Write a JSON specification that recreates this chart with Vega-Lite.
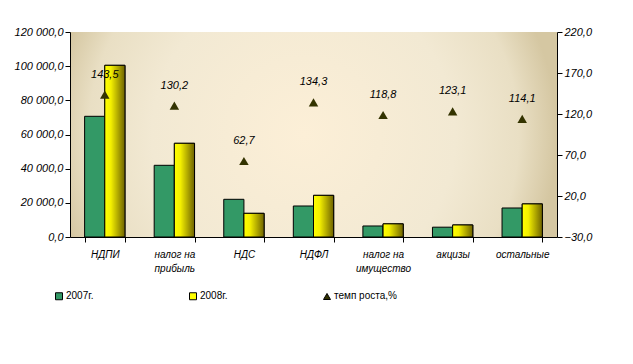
{
  "$schema": "https://vega.github.io/schema/vega-lite/v6.json",
  "width": 487,
  "height": 205,
  "autosize": {"type": "none"},
  "padding": {"left": 70, "top": 32, "right": 76, "bottom": 127},
  "background": "white",
  "config": {
    "locale": {"number": {"decimal": ",", "thousands": " ", "grouping": [3], "currency": ["", ""]}},
    "view": {
      "stroke": null,
      "fill": {"gradient": "radial", "x1": 0.48, "y1": 0.5, "r1": 0, "x2": 0.48, "y2": 0.5, "r2": 0.52,
        "stops": [{"offset": 0, "color": "#fcefd7"}, {"offset": 0.6, "color": "#f2e9d3"}, {"offset": 0.85, "color": "#e9dfc4"}, {"offset": 1, "color": "#d5c7a2"}]}
    },
    "axis": {"domainColor": "black", "tickColor": "black", "grid": false, "title": null,
      "labelFont": "Liberation Sans", "labelFontStyle": "italic", "labelColor": "black", "labelFontSize": 11, "tickSize": 5},
    "legend": {"labelFont": "Liberation Sans", "labelFontSize": 10, "labelColor": "black"}
  },
  "data": {"values": [
    {"cat": "НДПИ", "series": "2007г.", "value": 70650},
    {"cat": "НДПИ", "series": "2008г.", "value": 100500},
    {"cat": "налог на|прибыль", "series": "2007г.", "value": 41970},
    {"cat": "налог на|прибыль", "series": "2008г.", "value": 54850},
    {"cat": "НДС", "series": "2007г.", "value": 22070},
    {"cat": "НДС", "series": "2008г.", "value": 13850},
    {"cat": "НДФЛ", "series": "2007г.", "value": 18150},
    {"cat": "НДФЛ", "series": "2008г.", "value": 24380},
    {"cat": "налог на|имущество", "series": "2007г.", "value": 6450},
    {"cat": "налог на|имущество", "series": "2008г.", "value": 7700},
    {"cat": "акцизы", "series": "2007г.", "value": 5750},
    {"cat": "акцизы", "series": "2008г.", "value": 7050},
    {"cat": "остальные", "series": "2007г.", "value": 16980},
    {"cat": "остальные", "series": "2008г.", "value": 19370},
    {"cat": "НДПИ", "series": "темп роста,%", "rate": 143.5},
    {"cat": "налог на|прибыль", "series": "темп роста,%", "rate": 130.2},
    {"cat": "НДС", "series": "темп роста,%", "rate": 62.7},
    {"cat": "НДФЛ", "series": "темп роста,%", "rate": 134.3},
    {"cat": "налог на|имущество", "series": "темп роста,%", "rate": 118.8},
    {"cat": "акцизы", "series": "темп роста,%", "rate": 123.1},
    {"cat": "остальные", "series": "темп роста,%", "rate": 114.1}
  ]},
  "encoding": {
    "x": {"field": "cat", "type": "nominal",
      "sort": ["НДПИ", "налог на|прибыль", "НДС", "НДФЛ", "налог на|имущество", "акцизы", "остальные"],
      "scale": {"paddingInner": 0.42, "paddingOuter": 0.21},
      "axis": {"labelAngle": 0, "tickBand": "extent", "labelFontSize": 10, "labelPadding": 7, "labelLineHeight": 14,
        "labelExpr": "split(datum.label, '|')"}}
  },
  "layer": [
    {
      "transform": [{"filter": "datum.series != 'темп роста,%'"}],
      "encoding": {
        "y": {"field": "value", "type": "quantitative",
          "scale": {"domain": [0, 120000], "nice": false},
          "axis": {"values": [0, 20000, 40000, 60000, 80000, 100000, 120000], "orient": "left", "format": ",.1f"}},
        "xOffset": {"field": "series", "type": "nominal", "sort": ["2007г.", "2008г."]}
      },
      "layer": [
        {
          "mark": {"type": "bar", "stroke": "black", "strokeWidth": 1},
          "encoding": {
            "color": {"field": "series", "type": "nominal",
              "scale": {"domain": ["2007г.", "2008г.", "темп роста,%"], "range": ["#339966", "#ffff00", "#333300"]},
              "legend": {"title": null, "orient": "none", "direction": "horizontal", "legendX": -16, "legendY": 259,
                "columnPadding": 93, "symbolSize": 49, "symbolStrokeColor": "black", "symbolStrokeWidth": 1, "labelOffset": 2}}
          }
        },
        {
          "transform": [{"filter": "datum.series == '2008г.'"}],
          "mark": {"type": "bar", "stroke": "black", "strokeWidth": 1,
            "fill": {"gradient": "linear", "x1": 0, "y1": 0, "x2": 1, "y2": 0,
              "stops": [{"offset": 0, "color": "#ffff00"}, {"offset": 0.3, "color": "#f4f000"}, {"offset": 1, "color": "#6e6200"}]}}
        }
      ]
    },
    {
      "transform": [{"filter": "datum.series == 'темп роста,%'"}],
      "encoding": {
        "y": {"field": "rate", "type": "quantitative",
          "scale": {"domain": [-30, 220], "nice": false},
          "axis": {"values": [-30, 20, 70, 120, 170, 220], "orient": "right", "format": ".1f"}}
      },
      "layer": [
        {
          "mark": {"type": "point", "filled": true, "opacity": 1, "size": 90},
          "encoding": {
            "color": {"field": "series", "type": "nominal",
              "legend": {"title": null, "orient": "none", "direction": "horizontal", "legendX": -16, "legendY": 259,
                "columnPadding": 93, "symbolSize": 49, "symbolStrokeColor": "black", "symbolStrokeWidth": 1, "labelOffset": 2}},
            "shape": {"field": "series", "type": "nominal",
              "scale": {"domain": ["2007г.", "2008г.", "темп роста,%"], "range": ["square", "square", "triangle-up"]},
              "legend": {"title": null, "orient": "none", "direction": "horizontal", "legendX": -16, "legendY": 259,
                "columnPadding": 93, "symbolSize": 49, "symbolStrokeColor": "black", "symbolStrokeWidth": 1, "labelOffset": 2}}
          }
        },
        {
          "mark": {"type": "text", "dy": -20, "font": "Liberation Sans", "fontStyle": "italic", "fontSize": 11, "color": "black"},
          "encoding": {
            "text": {"field": "rate", "type": "quantitative", "format": ".1f"}
          }
        }
      ]
    }
  ],
  "resolve": {"scale": {"y": "independent"}}
}
